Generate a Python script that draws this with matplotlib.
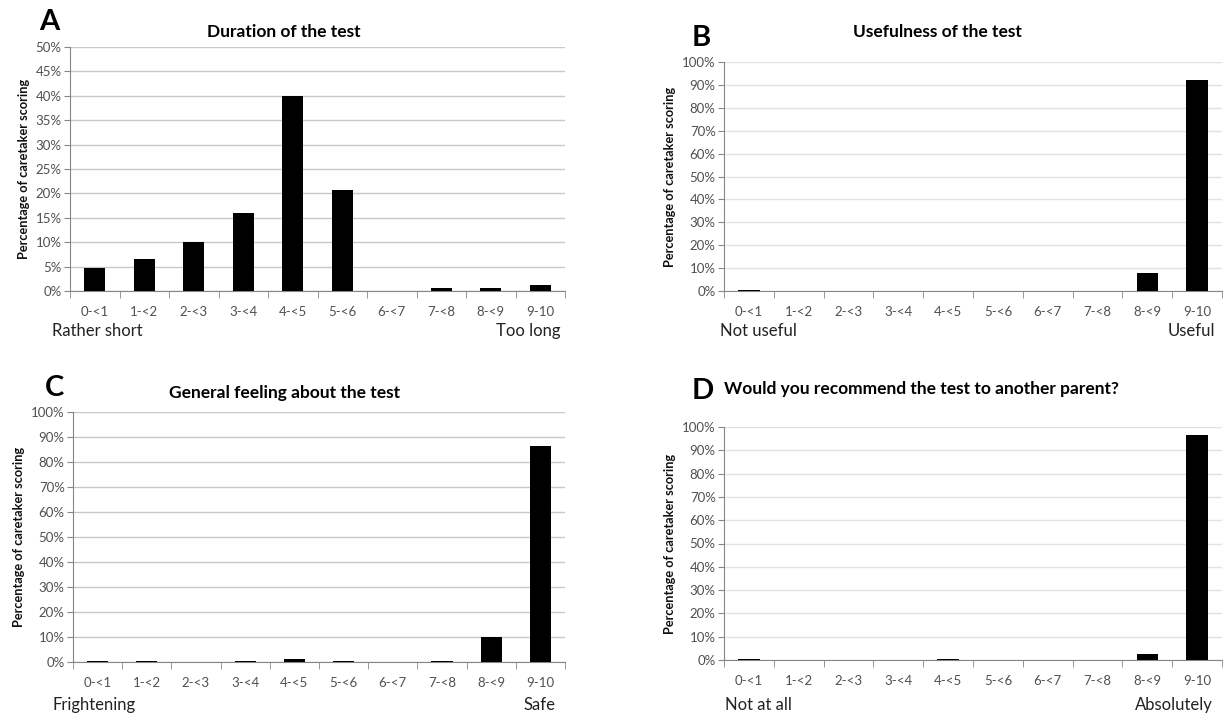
import numpy as np
import matplotlib
matplotlib.use("Agg")
import matplotlib.pyplot as plt
from matplotlib.ticker import PercentFormatter, MultipleLocator, FixedLocator

plt.rcParams['font.family'] = ['Lato', 'DejaVu Sans']

categories = ['0-<1', '1-<2', '2-<3', '3-<4', '4-<5', '5-<6', '6-<7', '7-<8', '8-<9', '9-10']

# percentages
duration = [4.7, 6.5, 10.0, 15.9, 40.0, 20.7, 0.0, 0.6, 0.6, 1.2]
usefulness = [0.6, 0.0, 0.0, 0.0, 0.0, 0.0, 0.0, 0.0, 8.0, 92.0]
feeling = [0.6, 0.6, 0.0, 0.6, 1.2, 0.6, 0.0, 0.6, 10.0, 86.3]
recommend = [0.6, 0.0, 0.0, 0.0, 0.6, 0.0, 0.0, 0.0, 2.4, 96.5]

titles = ['Duration of the test', 'Usefulness of the test',
          'General feeling about the test', 'Would you recommend the test to another parent?']
letters = ['A', 'B', 'C', 'D']
left_words = ['Rather short', 'Not useful', 'Frightening', 'Not at all']
right_words = ['Too long', 'Useful', 'Safe', 'Absolutely']
ymax = [50, 100, 100, 100]
ystep = [5, 10, 10, 10]

W, H = 1230, 715

# axes rectangles in pixels: left, right, top, bottom
px_rects = [(70, 565, 47, 291),
            (724, 1222, 62, 291),
            (73, 565, 412, 662),
            (724, 1222, 427, 660)]
# title positions (x, y, ha) and letter positions in pixels
title_pos = [(284, 32, 'center'), (937, 32, 'center'), (285, 393, 'center'), (724, 389, 'left')]
letter_pos = [(49, 22), (701, 38), (54, 388), (703, 391)]
grid_cols = ['#c8c8c8', '#e2e2e2', '#c8c8c8', '#e2e2e2']
# end words: left x, right x, centre y
word_pos = [(52, 561, 331), (720, 1215, 331), (52, 556, 705), (725, 1213, 705)]

fig = plt.figure(figsize=(12.3, 7.15), dpi=100)
axis_col = '#868686'
text_col = '#505050'

all_data = [duration, usefulness, feeling, recommend]
for i, data in enumerate(all_data):
    l, r, t, b = px_rects[i]
    ax = fig.add_axes([l / W, 1 - b / H, (r - l) / W, (b - t) / H])
    x = np.arange(len(categories))
    ax.bar(x, data, width=0.43, color='black', linewidth=0, zorder=3)
    ax.set_xlim(-0.5, 9.5)
    ax.set_ylim(0, ymax[i])
    ax.yaxis.set_major_locator(MultipleLocator(ystep[i]))
    ax.yaxis.set_major_formatter(PercentFormatter(decimals=0))
    ax.grid(axis='y', color=grid_cols[i], linewidth=1, zorder=0)
    ax.set_axisbelow(True)
    for s in ['top', 'right']:
        ax.spines[s].set_visible(False)
    ax.spines['left'].set_color(axis_col)
    ax.spines['bottom'].set_color(axis_col)
    ax.set_xticks(x)
    ax.set_xticklabels(categories)
    ax.xaxis.set_minor_locator(FixedLocator(np.arange(-0.5, 10, 1)))
    ax.tick_params(axis='x', which='major', length=0, pad=11, labelsize=9.5, labelcolor=text_col)
    ax.tick_params(axis='x', which='minor', length=5, color=axis_col, direction='out')
    ax.tick_params(axis='y', length=4, color=axis_col, labelsize=9.5, labelcolor=text_col, pad=2)
    ax.set_ylabel('Percentage of caretaker scoring', fontsize=9.2, fontweight='bold', labelpad=4,
                  color='#111111')

    wl, wr, wy = word_pos[i]
    fig.text(wl / W, 1 - wy / H, left_words[i], fontsize=12,
             ha='left', va='center', color='#222222')
    fig.text(wr / W, 1 - wy / H, right_words[i], fontsize=12,
             ha='right', va='center', color='#222222')

    tx, ty, tha = title_pos[i]
    fig.text(tx / W, 1 - ty / H, titles[i], fontsize=12.5, fontweight='bold', ha=tha, va='center')
    lx, ly = letter_pos[i]
    fig.text(lx / W, 1 - ly / H, letters[i], fontsize=21, fontweight='bold', ha='center', va='center')

fig.savefig('out.png', dpi=100, facecolor='white')
